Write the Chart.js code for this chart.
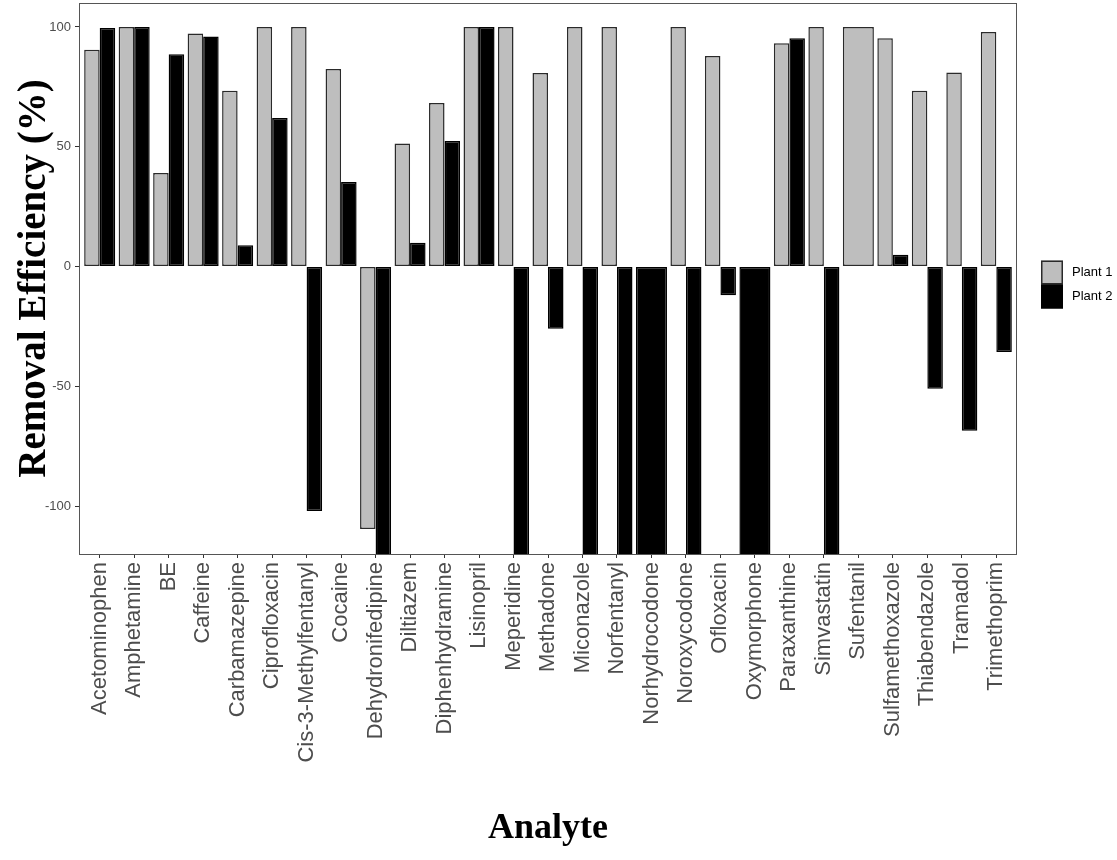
<!DOCTYPE html>
<html>
<head>
<meta charset="utf-8">
<script src="https://cdn.jsdelivr.net/npm/chart.js@4/dist/chart.umd.min.js"></script>
<style>
  html, body { margin: 0; padding: 0; background: #fff; }
  #wrap { width: 1117px; height: 860px; position: relative; }
</style>
</head>
<body>
<div id="wrap"><canvas id="chart"></canvas></div>
<script>
'use strict';

// Analytes (x axis)
const analytes = [
    'Acetominophen', 'Amphetamine', 'BE', 'Caffeine', 'Carbamazepine', 'Ciprofloxacin',
    'Cis-3-Methylfentanyl', 'Cocaine', 'Dehydronifedipine', 'Diltiazem', 'Diphenhydramine',
    'Lisinopril', 'Meperidine', 'Methadone', 'Miconazole', 'Norfentanyl', 'Norhydrocodone',
    'Noroxycodone', 'Ofloxacin', 'Oxymorphone', 'Paraxanthine', 'Simvastatin', 'Sufentanil',
    'Sulfamethoxazole', 'Thiabendazole', 'Tramadol', 'Trimethoprim'
];

// Removal efficiency (%) - values below -120 run off the panel in the original
const plant1 = [
    90.5, 100, 39, 97.3, 73.4, 100,
    100, 82.4, -109.6, 51.3, 68.3,
    100, 100, 80.8, 100, 100, null,
    100, 87.9, null, 93.2, 100, 100,
    95.3, 73.4, 81, 97.9
];
const plant2 = [
    99.6, 100, 88.6, 96, 8.9, 62,
    -102, 35.3, -150, 9.9, 52.4,
    100, -150, -26, -150, -150, -150,
    -150, -12, -150, 95.3, -150, null,
    4.9, -51, -68.6, -35.7
];

const yTicks = [-100, -50, 0, 50, 100];
const seriesNames = ['Plant 1', 'Plant 2'];
const seriesFill = ['#BEBEBE', '#000000'];
const seriesBorder = ['#2a2a2a', '#000000'];

// panel border like ggplot theme_bw
const panelBorder = {
    id: 'panelBorder',
    afterDatasetsDraw(chart) {
        const { ctx, chartArea: a } = chart;
        ctx.save();
        ctx.strokeStyle = '#555';
        ctx.lineWidth = 1;
        ctx.strokeRect(a.left + 0.5, a.top + 0.5, a.right - a.left - 1, a.bottom - a.top);
        ctx.restore();
    }
};

// stacked ggplot-style legend keys to the right of the panel
const sideLegend = {
    id: 'sideLegend',
    afterDraw(chart) {
        const { ctx, chartArea: a } = chart;
        const x = a.right + 24;
        const keyW = 22, keyH = 24;
        let y = (a.top + a.bottom) / 2 - keyH + 6;
        ctx.save();
        ctx.font = '13px "Liberation Sans", Arial, sans-serif';
        ctx.textBaseline = 'middle';
        chart.data.datasets.forEach((ds) => {
            ctx.fillStyle = ds.backgroundColor;
            ctx.fillRect(x, y, keyW, keyH);
            ctx.strokeStyle = ds.borderColor;
            ctx.lineWidth = 1.5;
            ctx.strokeRect(x + 0.75, y + 0.75, keyW - 1.5, keyH - 1.5);
            ctx.fillStyle = '#000';
            ctx.fillText(ds.label, x + keyW + 9, y + keyH / 2);
            y += keyH;
        });
        ctx.restore();
    }
};

const ctx = document.getElementById('chart').getContext('2d');
const chart = new Chart(ctx, {
    type: 'bar',
    data: {
        labels: analytes,
        datasets: [
            {
                label: seriesNames[0],
                data: plant1,
                backgroundColor: seriesFill[0],
                borderColor: seriesBorder[0],
                borderWidth: 1.5,
                borderSkipped: false,
                skipNull: true,
                categoryPercentage: 0.9,
                barPercentage: 1.0
            },
            {
                label: seriesNames[1],
                data: plant2,
                backgroundColor: seriesFill[1],
                borderColor: seriesBorder[1],
                borderWidth: 1.5,
                borderSkipped: false,
                skipNull: true,
                categoryPercentage: 0.9,
                barPercentage: 1.0
            }
        ]
    },
    options: {
        responsive: true,
        maintainAspectRatio: false,
        animation: false,
        layout: {
            padding: { top: 3, right: 100, left: 0, bottom: 0 }
        },
        plugins: {
            legend: { display: false },
            tooltip: { enabled: false }
        },
        scales: {
            x: {
                offset: true,
                afterBuildTicks(scale) {
                    // ggplot-like discrete expansion: 0.6 of a category on each side
                    scale._startValue = scale.min - 0.6;
                    scale._valueRange = scale.max - scale.min + 1.2;
                },
                grid: {
                    offset: false,
                    drawOnChartArea: false,
                    drawTicks: true,
                    tickLength: 4,
                    color: '#333'
                },
                border: { display: false },
                ticks: {
                    color: '#4D4D4D',
                    font: { family: '"Liberation Sans", Arial, sans-serif', size: 22 },
                    minRotation: 90,
                    maxRotation: 90,
                    autoSkip: false,
                    padding: 4
                },
                title: {
                    display: true,
                    text: 'Analyte',
                    color: '#000',
                    font: { family: '"Liberation Serif", "Times New Roman", serif', size: 36, weight: 'bold' },
                    padding: { top: 0, bottom: 10 }
                },
                afterFit(scale) {
                    scale.height = 306;
                    scale.paddingLeft = 0;
                    scale.paddingRight = 0;
                }
            },
            y: {
                min: -120,
                max: 110,
                afterBuildTicks(scale) {
                    scale.ticks = yTicks.map(v => ({ value: v }));
                },
                grid: {
                    drawOnChartArea: false,
                    drawTicks: true,
                    tickLength: 4,
                    color: '#333'
                },
                border: { display: false },
                ticks: {
                    color: '#4D4D4D',
                    font: { family: '"Liberation Sans", Arial, sans-serif', size: 13 },
                    padding: 4
                },
                title: {
                    display: true,
                    text: 'Removal Efficiency (%)',
                    color: '#000',
                    font: { family: '"Liberation Serif", "Times New Roman", serif', size: 39, weight: 'bold' },
                    padding: { top: 12, bottom: 0 }
                },
                afterFit(scale) {
                    scale.width = 79;
                    scale.paddingTop = 0;
                    scale.paddingBottom = 0;
                }
            }
        }
    },
    plugins: [panelBorder, sideLegend]
});
</script>
</body>
</html>
